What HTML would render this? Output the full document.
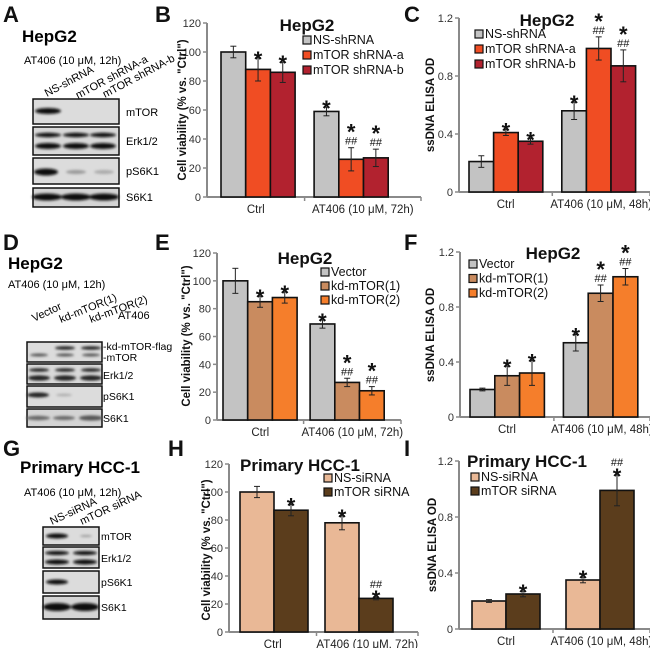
<!DOCTYPE html>
<html><head><meta charset="utf-8">
<style>
html,body{margin:0;padding:0;background:#fff;}
svg{display:block;font-family:"Liberation Sans",Arial,sans-serif;}
</style></head>
<body>
<svg id="fig" width="650" height="648" viewBox="0 0 650 648" xmlns="http://www.w3.org/2000/svg">
<defs>
<filter id="blur" x="-20%" y="-50%" width="140%" height="200%"><feGaussianBlur stdDeviation="1.2"/></filter>
</defs>
<g font-weight="bold" font-size="22" fill="#111">
<text x="3" y="22">A</text><text x="155" y="22">B</text><text x="404" y="22">C</text>
<text x="3" y="250">D</text><text x="155" y="250">E</text><text x="404" y="250">F</text>
<text x="3" y="456">G</text><text x="168" y="456">H</text><text x="404" y="456">I</text>
</g>

<g>
<text x="22" y="42" font-size="17" font-weight="bold">HepG2</text>
<text x="24" y="64" font-size="11">AT406 (10 μM, 12h)</text>
<text transform="translate(47,97) rotate(-28)" font-size="11">NS-shRNA</text>
<text transform="translate(78,99) rotate(-28)" font-size="11">mTOR shRNA-a</text>
<text transform="translate(105,98) rotate(-28)" font-size="11">mTOR shRNA-b</text>
<rect x="33" y="99" width="86" height="25" fill="#dcdcdc" stroke="#111" stroke-width="1.5"/>
<rect x="33" y="127" width="86" height="28" fill="#d8d8d8" stroke="#111" stroke-width="1.5"/>
<rect x="33" y="158" width="86" height="26" fill="#dcdcdc" stroke="#111" stroke-width="1.5"/>
<rect x="33" y="188" width="86" height="19" fill="#d4d4d4" stroke="#111" stroke-width="1.5"/>
<g filter="url(#blur)" fill="#111">
<ellipse cx="48" cy="111" rx="13" ry="3"/>
<ellipse cx="48" cy="135" rx="13" ry="2.2"/><ellipse cx="76" cy="135" rx="13" ry="2.2"/><ellipse cx="103" cy="135" rx="13" ry="2.2"/>
<ellipse cx="48" cy="146" rx="13" ry="3"/><ellipse cx="76" cy="146" rx="13" ry="3"/><ellipse cx="103" cy="146" rx="13" ry="3"/>
<ellipse cx="46" cy="172" rx="12" ry="3.5"/>
<ellipse cx="76" cy="172" rx="10" ry="2" fill="#999"/><ellipse cx="104" cy="172" rx="10" ry="2" fill="#aaa"/>
<ellipse cx="47" cy="197" rx="15" ry="3.5"/><ellipse cx="76" cy="197" rx="15" ry="3.5"/><ellipse cx="104" cy="197" rx="15" ry="3.5"/>
</g>
<g font-size="11"><text x="126" y="116">mTOR</text><text x="126" y="145">Erk1/2</text><text x="126" y="175">pS6K1</text><text x="126" y="201">S6K1</text></g>
</g>

<g>
<text x="8" y="269" font-size="17" font-weight="bold">HepG2</text>
<text x="8" y="288" font-size="11">AT406 (10 μM, 12h)</text>
<text transform="translate(34,322) rotate(-25)" font-size="11">Vector</text>
<text transform="translate(61,323) rotate(-22)" font-size="11">kd-mTOR(1)</text>
<text transform="translate(91,323) rotate(-20)" font-size="11">kd-mTOR(2)</text>
<text x="118" y="319" font-size="11">AT406</text>
<rect x="27" y="342" width="75" height="20" fill="#dcdcdc" stroke="#111" stroke-width="1.5"/>
<rect x="27" y="364" width="75" height="20" fill="#d8d8d8" stroke="#111" stroke-width="1.5"/>
<rect x="27" y="386" width="75" height="21" fill="#dcdcdc" stroke="#111" stroke-width="1.5"/>
<rect x="27" y="409" width="75" height="18" fill="#d4d4d4" stroke="#111" stroke-width="1.5"/>
<g filter="url(#blur)" fill="#222">
<ellipse cx="65" cy="348" rx="10" ry="1.8"/><ellipse cx="91" cy="348" rx="10" ry="1.8"/>
<ellipse cx="39" cy="355" rx="9" ry="1.5" fill="#555"/><ellipse cx="65" cy="355" rx="9" ry="1.5" fill="#555"/><ellipse cx="91" cy="355" rx="9" ry="1.5" fill="#555"/>
<ellipse cx="39" cy="370" rx="10" ry="1.8"/><ellipse cx="65" cy="370" rx="10" ry="1.8"/><ellipse cx="91" cy="370" rx="10" ry="1.8"/>
<ellipse cx="39" cy="378" rx="11" ry="2.6"/><ellipse cx="65" cy="378" rx="11" ry="2.6"/><ellipse cx="91" cy="378" rx="11" ry="2.6"/>
<ellipse cx="38" cy="395" rx="11" ry="2.5"/><ellipse cx="64" cy="395" rx="8" ry="1.3" fill="#aaa"/>
<ellipse cx="38" cy="418" rx="12" ry="2.2" fill="#666"/><ellipse cx="64" cy="418" rx="11" ry="2" fill="#666"/><ellipse cx="91" cy="418" rx="12" ry="2.6" fill="#555"/>
</g>
<g font-size="10.5"><text x="103" y="350">-kd-mTOR-flag</text><text x="103" y="361">-mTOR</text><text x="103" y="379">Erk1/2</text><text x="103" y="400">pS6K1</text><text x="103" y="422">S6K1</text></g>
</g>

<g>
<text x="20" y="473" font-size="17" font-weight="bold">Primary HCC-1</text>
<text x="24" y="496" font-size="11">AT406 (10 μM, 12h)</text>
<text transform="translate(52,525) rotate(-25)" font-size="11">NS-siRNA</text>
<text transform="translate(82,525) rotate(-25)" font-size="11">mTOR siRNA</text>
<rect x="43" y="527" width="56" height="18" fill="#dcdcdc" stroke="#111" stroke-width="1.5"/>
<rect x="43" y="547" width="56" height="21" fill="#d8d8d8" stroke="#111" stroke-width="1.5"/>
<rect x="43" y="571" width="56" height="22" fill="#dcdcdc" stroke="#111" stroke-width="1.5"/>
<rect x="43" y="596" width="56" height="23" fill="#d4d4d4" stroke="#111" stroke-width="1.5"/>
<g filter="url(#blur)" fill="#111">
<ellipse cx="57" cy="536" rx="11" ry="2.5"/><ellipse cx="86" cy="536" rx="6" ry="1" fill="#999"/>
<ellipse cx="57" cy="553" rx="12" ry="2"/><ellipse cx="85" cy="553" rx="12" ry="2"/>
<ellipse cx="57" cy="562" rx="12" ry="2.5"/><ellipse cx="85" cy="562" rx="12" ry="2.5"/>
<ellipse cx="57" cy="582" rx="11" ry="2.5"/>
<ellipse cx="57" cy="607" rx="14" ry="4"/><ellipse cx="85" cy="607" rx="14" ry="4"/>
</g>
<g font-size="10.5"><text x="101" y="540">mTOR</text><text x="101" y="562">Erk1/2</text><text x="101" y="586">pS6K1</text><text x="101" y="611">S6K1</text></g>
</g>

<g id="charts"></g>
</svg>
<script>
const catsViab = ["Ctrl", "AT406 (10 μM, 72h)"];
const catsElisa = ["Ctrl", "AT406 (10 μM, 48h)"];
const ticksViab = [0, 20, 40, 60, 80, 100, 120];
const ticksElisa = [0, 0.4, 0.8, 1.2];

const bSeries = ["NS-shRNA", "mTOR shRNA-a", "mTOR shRNA-b"];
const bNS = [100, 59];   const bNSerr = [4, 3];   const bNSmark = ["", "*"];
const bA = [88, 26];     const bAerr = [8, 8];    const bAmark = ["*", "*##"];
const bB = [86, 27];     const bBerr = [7, 6];    const bBmark = ["*", "*##"];
const cNS = [0.21, 0.56]; const cNSerr = [0.04, 0.06]; const cNSmark = ["", "*"];
const cA = [0.41, 0.99];  const cAerr = [0.02, 0.08];  const cAmark = ["*", "*##"];
const cB = [0.35, 0.87];  const cBerr = [0.02, 0.11];  const cBmark = ["*", "*##"];
const eSeries = ["Vector", "kd-mTOR(1)", "kd-mTOR(2)"];
const eV = [100, 69];  const eVerr = [9, 3];  const eVmark = ["", "*"];
const e1 = [85, 27];   const e1err = [4, 3];  const e1mark = ["*", "*##"];
const e2 = [88, 21];   const e2err = [4, 3];  const e2mark = ["*", "*##"];
const fV = [0.20, 0.54]; const fVerr = [0.01, 0.06]; const fVmark = ["", "*"];
const f1 = [0.30, 0.90]; const f1err = [0.07, 0.06]; const f1mark = ["*", "*##"];
const f2 = [0.32, 1.02]; const f2err = [0.09, 0.06]; const f2mark = ["*", "*##"];
const hSeries = ["NS-siRNA", "mTOR siRNA"];
const hNS = [100, 78]; const hNSerr = [4, 5]; const hNSmark = ["", "*"];
const hM = [87, 24];   const hMerr = [4, 1]; const hMmark = ["*", "##*"];
const iNS = [0.20, 0.35]; const iNSerr = [0.01, 0.02]; const iNSmark = ["", "*"];
const iM = [0.25, 0.99];  const iMerr = [0.02, 0.11]; const iMmark = ["*", "##*"];

const NS = "http://www.w3.org/2000/svg";
const root = document.getElementById("charts");
function mk(tag, attrs, parent) {
  const e = document.createElementNS(NS, tag);
  for (const k in attrs) e.setAttribute(k, attrs[k]);
  parent.appendChild(e);
  return e;
}
function txt(s, attrs, parent) { const t = mk("text", attrs, parent); t.textContent = s; return t; }

function drawChart(cfg) {
  const g = mk("g", {}, root);
  
  
  const yS = v => cfg.y0 - (v / cfg.max) * (cfg.y0 - cfg.yTop);
  const axisC = "#8a8a8a";
  const ya = mk("g", {}, g);
  
  
  mk("line", {x1: cfg.ax, y1: cfg.yTop, x2: cfg.ax, y2: cfg.y0, stroke: axisC, "stroke-width": 2}, ya);
  cfg.ticks.forEach(t => {
    const y = yS(t);
    mk("line", {x1: cfg.ax - 4, y1: y, x2: cfg.ax, y2: y, stroke: axisC, "stroke-width": 1.5}, ya);
    const lb = txt(String(t), {x: cfg.ax - 6, y: y + 4, "font-size": 11, "text-anchor": "end", fill: "#333"}, ya);
    
    
  });
  const yt = txt(cfg.ytitle, {transform: `translate(${cfg.ytx},${cfg.yty}) rotate(-90)`, "font-size": 11.5, "font-weight": "bold", "text-anchor": "middle", fill: "#111"}, g);
  
  
  const xa = mk("g", {}, g);
  
  
  mk("line", {x1: cfg.ax, y1: cfg.y0, x2: cfg.xEnd, y2: cfg.y0, stroke: axisC, "stroke-width": 2}, xa);
  const n = cfg.series.length;
  const groupW = n * cfg.bw;
  const gStart = gi => cfg.ax + cfg.off + gi * (groupW + cfg.gap);
  const divX = gStart(1) - cfg.gap / 2;
  [divX, cfg.xEnd].forEach(x => mk("line", {x1: x, y1: cfg.y0, x2: x, y2: cfg.y0 + 4, stroke: axisC, "stroke-width": 1.5}, xa));
  const centers = [(cfg.ax + divX) / 2, (divX + cfg.xEnd) / 2];
  cfg.cats.forEach((c, ci) => {
    const cl = txt(c, {x: centers[ci], y: cfg.y0 + 16, "font-size": 11.5, "text-anchor": "middle", fill: "#222"}, xa);
    
    
  });
  cfg.series.forEach((s, si) => {
    s.vals.forEach((v, gi) => {
      const x = gStart(gi) + si * cfg.bw;
      const y = yS(v);
      const r = mk("rect", {x: x, y: y, width: cfg.bw, height: cfg.y0 - y, fill: s.color, stroke: "#111", "stroke-width": 1.6}, g);
      
      
      const cx = x + cfg.bw / 2;
      const e = s.err[gi];
      const eg = mk("g", {stroke: "#222", "stroke-width": 1}, g);
      
      
      mk("line", {x1: cx, y1: yS(v + e), x2: cx, y2: yS(v - e)}, eg);
      mk("line", {x1: cx - 3, y1: yS(v + e), x2: cx + 3, y2: yS(v + e)}, eg);
      mk("line", {x1: cx - 3, y1: yS(v - e), x2: cx + 3, y2: yS(v - e)}, eg);
      const m = s.mark[gi];
      const top = yS(v + e) - 3;
      const ag = mk("g", {"text-anchor": "middle", fill: "#111"}, g);
      
      
      if (m === "*") {
        txt("*", {x: cx, y: top + 12, "font-size": 22, "font-weight": "bold"}, ag);
      } else if (m === "*##") {
        txt("##", {x: cx, y: top, "font-size": 11}, ag);
        txt("*", {x: cx, y: top + 3, "font-size": 22, "font-weight": "bold"}, ag).setAttribute("dy", "-8");
      } else if (m === "##*") {
        txt("*", {x: cx, y: top + 12, "font-size": 22, "font-weight": "bold"}, ag);
        txt("##", {x: cx, y: top - 6, "font-size": 11}, ag);
      }
    });
  });
  const t = txt(cfg.title, {x: cfg.tx, y: cfg.ty, "font-size": 17, "font-weight": "bold", "text-anchor": "middle", fill: "#111"}, g);
  
  
  const lg = mk("g", {}, g);
  
  
  cfg.series.forEach((s, si) => {
    const y = cfg.ly + si * cfg.lstep;
    const le = mk("g", {}, lg);
    
    
    mk("rect", {x: cfg.lx, y: y - 8, width: 8, height: 8, fill: s.color, stroke: "#111", "stroke-width": 1.2}, le);
    txt(s.label, {x: cfg.lx + 10, y: y, "font-size": 12.5, fill: "#111"}, le);
  });
}

const C = {gray: "#c3c3c3", red: "#f04d23", dred: "#b2222f", tan: "#c98b5f", orange: "#f57e2b", peach: "#e9b896", brown: "#5b3d1c"};
const VT = 'Cell viability (% vs. "Ctrl")';
const ET = 'ssDNA ELISA OD';

drawChart({name: "chart-b", ax: 207, y0: 197, yTop: 23, xEnd: 421, max: 120, ticks: ticksViab, off: 14, bw: 24.7, gap: 19,
  cats: catsViab, title: "HepG2", tx: 307, ty: 31, lx: 303, ly: 44, lstep: 15, ytitle: VT, ytx: 186, yty: 110,
  series: [{key: "ns", label: bSeries[0], color: C.gray, vals: bNS, err: bNSerr, mark: bNSmark},
           {key: "a", label: bSeries[1], color: C.red, vals: bA, err: bAerr, mark: bAmark},
           {key: "b", label: bSeries[2], color: C.dred, vals: bB, err: bBerr, mark: bBmark}]});
drawChart({name: "chart-c", ax: 459, y0: 192, yTop: 18, xEnd: 650, max: 1.2, ticks: ticksElisa, off: 10, bw: 24.6, gap: 19,
  cats: catsElisa, title: "HepG2", tx: 547, ty: 26, lx: 475, ly: 38, lstep: 15, ytitle: ET, ytx: 434, yty: 105,
  series: [{key: "ns", label: bSeries[0], color: C.gray, vals: cNS, err: cNSerr, mark: cNSmark},
           {key: "a", label: bSeries[1], color: C.red, vals: cA, err: cAerr, mark: cAmark},
           {key: "b", label: bSeries[2], color: C.dred, vals: cB, err: cBerr, mark: cBmark}]});
drawChart({name: "chart-e", ax: 217, y0: 420, yTop: 253, xEnd: 401, max: 120, ticks: ticksViab, off: 6, bw: 24.7, gap: 13,
  cats: catsViab, title: "HepG2", tx: 305, ty: 264, lx: 321, ly: 276, lstep: 14, ytitle: VT, ytx: 190, yty: 336,
  series: [{key: "vector", label: eSeries[0], color: C.gray, vals: eV, err: eVerr, mark: eVmark},
           {key: "kd1", label: eSeries[1], color: C.tan, vals: e1, err: e1err, mark: e1mark},
           {key: "kd2", label: eSeries[2], color: C.orange, vals: e2, err: e2err, mark: e2mark}]});
drawChart({name: "chart-f", ax: 460, y0: 417, yTop: 252, xEnd: 650, max: 1.2, ticks: ticksElisa, off: 10, bw: 24.8, gap: 19,
  cats: catsElisa, title: "HepG2", tx: 553, ty: 259, lx: 469, ly: 268, lstep: 14.5, ytitle: ET, ytx: 434, yty: 335,
  series: [{key: "vector", label: eSeries[0], color: C.gray, vals: fV, err: fVerr, mark: fVmark},
           {key: "kd1", label: eSeries[1], color: C.tan, vals: f1, err: f1err, mark: f1mark},
           {key: "kd2", label: eSeries[2], color: C.orange, vals: f2, err: f2err, mark: f2mark}]});
drawChart({name: "chart-h", ax: 229, y0: 632, yTop: 464, xEnd: 418, max: 120, ticks: ticksViab, off: 11, bw: 34, gap: 17,
  cats: catsViab, title: "Primary HCC-1", tx: 300, ty: 471, lx: 324, ly: 482, lstep: 14, ytitle: VT, ytx: 210, yty: 550,
  series: [{key: "ns", label: hSeries[0], color: C.peach, vals: hNS, err: hNSerr, mark: hNSmark},
           {key: "mtor", label: hSeries[1], color: C.brown, vals: hM, err: hMerr, mark: hMmark}]});
drawChart({name: "chart-i", ax: 459, y0: 629, yTop: 461, xEnd: 650, max: 1.2, ticks: ticksElisa, off: 13, bw: 34, gap: 26,
  cats: catsElisa, title: "Primary HCC-1", tx: 527, ty: 467, lx: 471, ly: 481, lstep: 14, ytitle: ET, ytx: 436, yty: 545,
  series: [{key: "ns", label: hSeries[0], color: C.peach, vals: iNS, err: iNSerr, mark: iNSmark},
           {key: "mtor", label: hSeries[1], color: C.brown, vals: iM, err: iMerr, mark: iMmark}]});
</script>
</body></html>
